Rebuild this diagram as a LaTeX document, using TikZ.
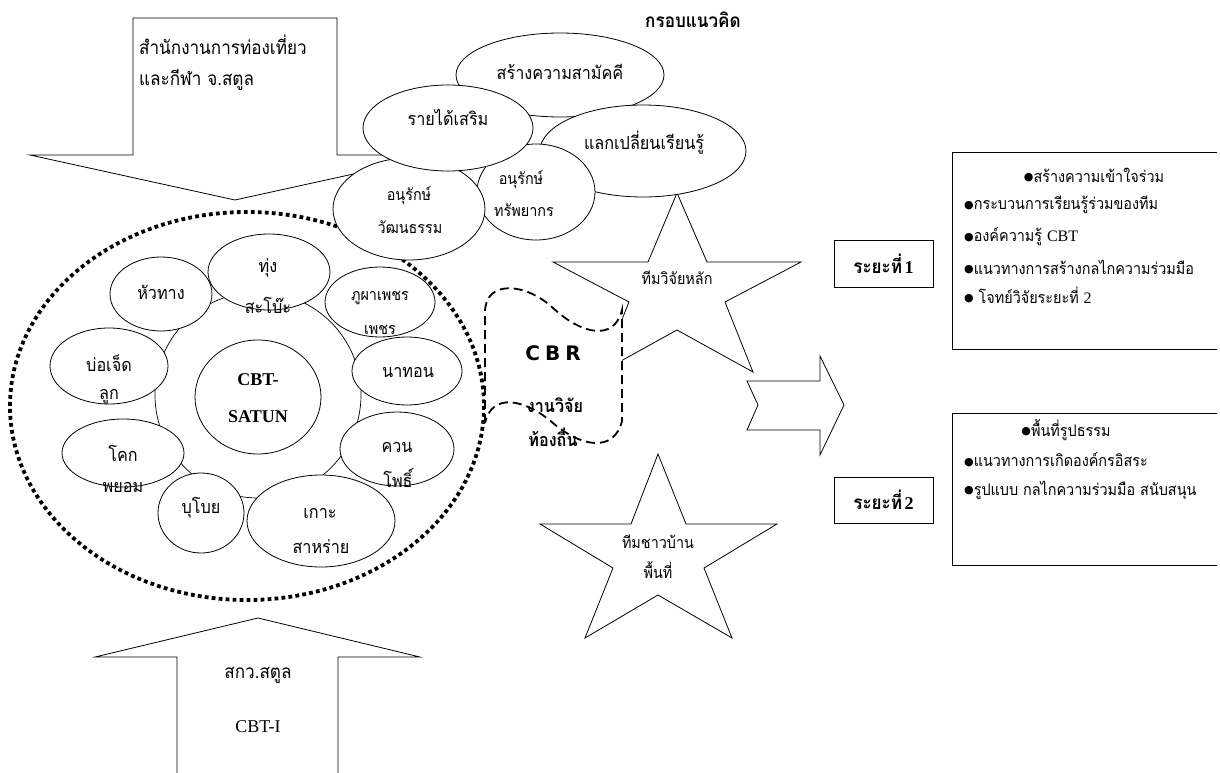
\documentclass[tikz,border=0pt]{standalone}
\usepackage{fontspec}
\setmainfont{Liberation Serif}
\newfontfamily\thai[Script=Thai,FakeStretch=0.9]{Loma}
\newfontfamily\dvfont{DejaVu Sans}
\newcommand\bul{\raisebox{1.5pt}{\dvfont\fontsize{11}{11}\selectfont\char"25CF}}
\usetikzlibrary{shapes.geometric}
\tikzset{
  blob/.style={draw, ellipse, fill=white, inner sep=0pt, line width=0.8pt},
  shp/.style={draw, line width=0.8pt},
  lbl/.style={font=\thai\fontsize{18}{20}\selectfont, inner sep=0pt},
  lblsm/.style={font=\thai\fontsize{16}{18}\selectfont, inner sep=0pt},
  boxtxt/.style={font=\thai\fontsize{16}{18}\selectfont, inner sep=0pt},
  dotline/.style={draw, line width=3.8pt, dash pattern=on 3.8pt off 3.2pt},
  dashline/.style={draw, line width=1.8pt, dash pattern=on 9pt off 5pt},
}
\begin{document}
\begin{tikzpicture}[x=1pt,y=-1pt]
\useasboundingbox (0,0) rectangle (1220,773);
% top arrow
\draw[shp] (133,18) -- (337,18) -- (337,155) -- (440,155) -- (235,200) -- (30,155) -- (133,155) -- cycle;
\node[lbl, font=\thai\fontsize{19}{21}\selectfont, anchor=west] (a1) at (139,45) {สำนักงานการท่องเที่ยว};
\node[lbl, font=\thai\fontsize{19}{21}\selectfont, anchor=west] (a2) at (139,80) {และกีฬา จ.สตูล};
% bottom arrow
\draw[shp] (177,780) -- (177,657) -- (95,657) -- (258,618) -- (420,657) -- (338,657) -- (338,780);
\node[lbl, font=\thai\fontsize{19}{21}\selectfont] (b1) at (258,675) {สกว.สตูล};
\node[font=\fontsize{18}{20}\selectfont, inner sep=0pt] (b2) at (258,727) {CBT-I};
% title
\node[font=\thai\bfseries\fontsize{19}{21}\selectfont, inner sep=0pt] (title) at (693,20) {กรอบแนวคิด};
% dotted ellipse
\path[dotline] (247,406) ellipse [x radius=237, y radius=194];
% inner circle
\draw[line width=0.7pt] (258,395) circle [radius=103];
% small ellipses
\node[blob, minimum width=102, minimum height=74] (huataang) at (161,294) {};
\node[blob, minimum width=122, minimum height=76] (thung) at (269,272) {};
\node[blob, minimum width=110, minimum height=70] (phupha) at (380,302) {};
\node[blob, minimum width=110, minimum height=68] (nathon) at (407,371) {};
\node[blob, minimum width=114, minimum height=74] (khuan) at (397,449) {};
\node[blob, minimum width=148, minimum height=92] (ko) at (321,521) {};
\node[blob, minimum width=86, minimum height=80] (buboi) at (201,513) {};
\node[blob, minimum width=122, minimum height=68] (khok) at (123,453) {};
\node[blob, minimum width=118, minimum height=76] (bo) at (109,366) {};
\node[blob, minimum width=126, minimum height=114] (cbt) at (258,397) {};
% star 1
\draw[shp, fill=white] (677,193) -- (707,262) -- (801,262) -- (725,302) -- (753,372) -- (677,330) -- (601,372) -- (629,302) -- (553,262) -- (648,262) -- cycle;
% star 2
\draw[shp, fill=white] (658,454) -- (686,524) -- (777,524) -- (704,568) -- (732,638) -- (658,595) -- (585,638) -- (613,568) -- (540,524) -- (631,524) -- cycle;
\node[lblsm] (s1) at (677,278) {ทีมวิจัยหลัก};
\node[lblsm] (s2a) at (658,542) {ทีมชาวบ้าน};
\node[lblsm] (s2b) at (658,570) {พื้นที่};
% CBR shape
\path[dashline, fill=white] (485,423) -- (485,312)
  .. controls (485,280) and (525,282) .. (553,308)
  .. controls (581,334) and (614,342) .. (622,310)
  -- (622,421)
  .. controls (614,453) and (581,447) .. (553,423)
  .. controls (525,399) and (492,392) .. (485,423) -- cycle;
\node[font=\dvfont\bfseries\fontsize{20}{22}\selectfont, inner sep=0pt] (cbr) at (553,353) {C\kern5pt B\kern5pt R};
\node[font=\thai\bfseries\fontsize{18}{20}\selectfont, inner sep=0pt] (cbr2) at (555,405) {งานวิจัย};
\node[font=\thai\bfseries\fontsize{18}{20}\selectfont, inner sep=0pt] (cbr3) at (553,437) {ท้องถิ่น};
% top cluster
\node[blob, minimum width=208, minimum height=84] (samakkhi) at (560,75) {};
\node[blob, minimum width=206, minimum height=92] (laek) at (643,151) {};
\node[blob, minimum width=118, minimum height=96] (sap) at (536,192) {};
\node[blob, minimum width=152, minimum height=102] (wat) at (409,209) {};
\node[blob, minimum width=170, minimum height=86] (rai) at (448,128) {};
\node[lbl] (t-samakkhi) at (560,72) {สร้างความสามัคคี};
\node[lbl] (t-laek) at (644,143) {แลกเปลี่ยนเรียนรู้};
\node[lbl] (t-rai) at (448,117) {รายได้เสริม};
\node[lblsm] (t-sap1) at (521,180) {อนุรักษ์};
\node[lblsm] (t-sap2) at (524,210) {ทรัพยากร};
\node[lblsm] (t-wat1) at (409,196) {อนุรักษ์};
\node[lblsm] (t-wat2) at (410,227) {วัฒนธรรม};
% small ellipse labels
\node[lbl] (t-huataang) at (161,292) {หัวทาง};
\node[lbl] (t-thung1) at (268,268) {ทุ่ง};
\node[lbl] (t-thung2) at (268,305) {สะโบ๊ะ};
\node[lblsm] (t-phupha1) at (380,298) {ภูผาเพชร};
\node[lblsm] (t-phupha2) at (380,330) {เพชร};
\node[lbl] (t-nathon) at (408,372) {นาทอน};
\node[lbl] (t-khuan1) at (397,447) {ควน};
\node[lbl] (t-khuan2) at (398,478) {โพธิ์};
\node[lbl] (t-ko1) at (320,513) {เกาะ};
\node[lbl] (t-ko2) at (321,547) {สาหร่าย};
\node[lbl] (t-buboi) at (201,508) {บุโบย};
\node[lbl] (t-khok1) at (123,453) {โคก};
\node[lbl] (t-khok2) at (123,487) {พยอม};
\node[lbl] (t-bo1) at (109,363) {บ่อเจ็ด};
\node[lbl] (t-bo2) at (109,397) {ลูก};
\node[font=\bfseries\fontsize{18}{20}\selectfont, inner sep=0pt] (t-cbt1) at (258,380) {CBT-};
\node[font=\bfseries\fontsize{18}{20}\selectfont, inner sep=0pt] (t-cbt2) at (258,417) {SATUN};
% right arrow
\draw[shp] (747,381) -- (820,381) -- (820,356) -- (844,405) -- (820,455) -- (820,430) -- (747,430) -- (758,405) -- cycle;
% phase boxes
\node[draw, line width=0.8pt, minimum width=99, minimum height=47, inner sep=0pt] (p1) at (883.5,263.5) {{\thai\bfseries\fontsize{19}{21}\selectfont ระยะที่} {\bfseries\fontsize{18}{20}\selectfont 1}};
\node[draw, line width=0.8pt, minimum width=99, minimum height=46, inner sep=0pt] (p2) at (883.5,500) {{\thai\bfseries\fontsize{19}{21}\selectfont ระยะที่} {\bfseries\fontsize{18}{20}\selectfont 2}};
\draw[line width=0.8pt] (1217,152) -- (952,152) -- (952,349) -- (1217,349);
\draw[line width=0.8pt] (1217,413) -- (952,413) -- (952,565) -- (1217,565);
\node[boxtxt] (r1a) at (1094,175) {\bul สร้างความเข้าใจร่วม};
\node[boxtxt, anchor=west] (r1b) at (964,205) {\bul กระบวนการเรียนรู้ร่วมของทีม};
\node[boxtxt, anchor=west] (r1c) at (964,237) {\bul องค์ความรู้ {\rmfamily CBT}};
\node[boxtxt, anchor=west] (r1d) at (964,267) {\bul แนวทางการสร้างกลไกความร่วมมือ};
\node[boxtxt, anchor=west] (r1e) at (964,295) {\bul\ โจทย์วิจัยระยะที่ {\rmfamily 2}};
\node[boxtxt] (r2a) at (1066,430) {\bul พื้นที่รูปธรรม};
\node[boxtxt, anchor=west] (r2b) at (964,460) {\bul แนวทางการเกิดองค์กรอิสระ};
\node[boxtxt, anchor=west] (r2c) at (964,490) {\bul รูปแบบ กลไกความร่วมมือ สนับสนุน};
\end{tikzpicture}
\end{document}
